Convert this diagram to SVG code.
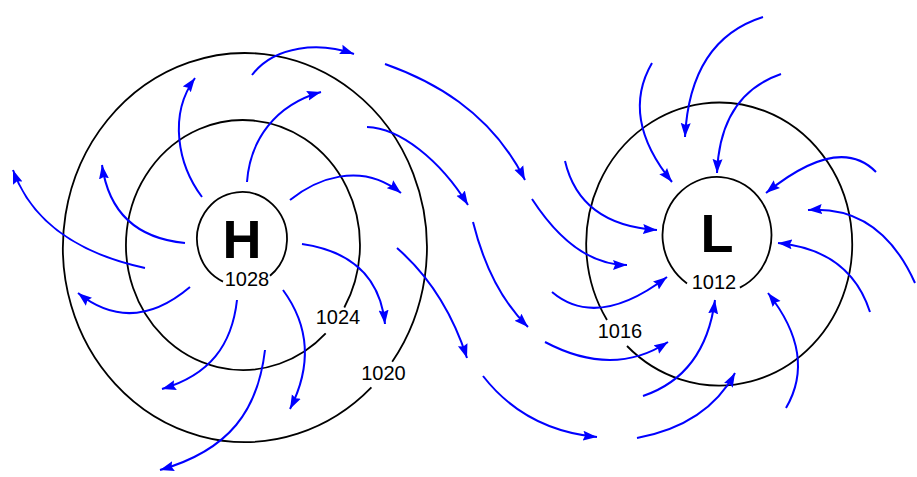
<svg xmlns="http://www.w3.org/2000/svg" width="917" height="477" viewBox="0 0 917 477">
<style>
.iso{fill:none;stroke:#000;stroke-width:1.8}
.wind{fill:none;stroke:#0000ff;stroke-width:2;marker-end:url(#ah)}
.big{font-family:"Liberation Sans",Arial,sans-serif;font-weight:bold;font-size:54px;text-anchor:middle;fill:#000}
.num{font-family:"Liberation Sans",Arial,sans-serif;font-size:20px;text-anchor:middle;fill:#000}
</style>
<defs>
<marker id="ah" markerWidth="14" markerHeight="11" refX="14" refY="5.5" orient="auto" markerUnits="userSpaceOnUse">
<path d="M0,0.5 L14,5.5 L0,10.5 L2,5.5 z" fill="#0000ff"/>
</marker>
</defs>
<rect width="917" height="477" fill="#fff"/>
<g id="high">
<path class="iso" d="M223,281.6 A45,47 0 1 1 270,275.8"/>
<path class="iso" d="M325.7,333.4 A117,125 0 1 1 344.3,307.5"/>
<path class="iso" d="M371.4,387.4 A182,194.5 0 1 1 392.2,361.8"/>
<text class="big" x="242" y="258">H</text>
<text class="num" x="247" y="286">1028</text>
<text class="num" x="338" y="324">1024</text>
<text class="num" x="383.5" y="380">1020</text>
</g>
<g id="low">
<path class="iso" d="M687,283.4 A54.5,58 0 1 1 739.9,287.6"/>
<path class="iso" d="M607,320 A133,141.5 0 1 1 627,346"/>
<text class="big" x="717" y="252">L</text>
<text class="num" x="714" y="289">1012</text>
<text class="num" x="620" y="338">1016</text>
</g>
<g id="connectors">
<path class="wind" d="M252,75 C275,45 320,42 354,54"/>
<path class="wind" d="M202,197 C178,165 168,115 195,78"/>
<path class="wind" d="M247,182 C250,140 275,105 321,92"/>
<path class="wind" d="M290,200 C315,180 360,160 401,193"/>
<path class="wind" d="M367,127 C400,128 440,160 468,205"/>
<path class="wind" d="M385,64 C430,80 490,110 525,180"/>
<path class="wind" d="M145,268 Q40,245 13,170"/>
<path class="wind" d="M185,243 Q112,236 102,165"/>
<path class="wind" d="M190,287 Q132,336 78,293"/>
<path class="wind" d="M237,300 C232,345 210,375 162,389"/>
<path class="wind" d="M265,350 C258,410 230,450 160,470"/>
<path class="wind" d="M283,290 C305,320 315,360 290,409"/>
<path class="wind" d="M302,244 Q378,255 385,324"/>
<path class="wind" d="M397,248 Q445,290 467,358"/>
<path class="wind" d="M473,222 Q490,290 528,327"/>
<path class="wind" d="M483,376 Q525,430 597,437"/>
<path class="wind" d="M565,161 Q580,225 657,230"/>
<path class="wind" d="M532,199 Q575,265 627,265"/>
<path class="wind" d="M552,292 Q597,330 667,277"/>
<path class="wind" d="M545,342 Q613,378 668,342"/>
<path class="wind" d="M643,396 Q705,375 715,300"/>
<path class="wind" d="M637,438 C680,430 715,410 735,373"/>
<path class="wind" d="M786,408 Q817,355 768,293"/>
<path class="wind" d="M652,63 Q620,118 672,182"/>
<path class="wind" d="M763,17 Q690,40 685,137"/>
<path class="wind" d="M781,74 Q720,95 717,173"/>
<path class="wind" d="M876,172 Q839,134 766,193"/>
<path class="wind" d="M915,283 Q880,205 808,210"/>
<path class="wind" d="M870,312 Q850,250 778,243"/>
</g>
</svg>
